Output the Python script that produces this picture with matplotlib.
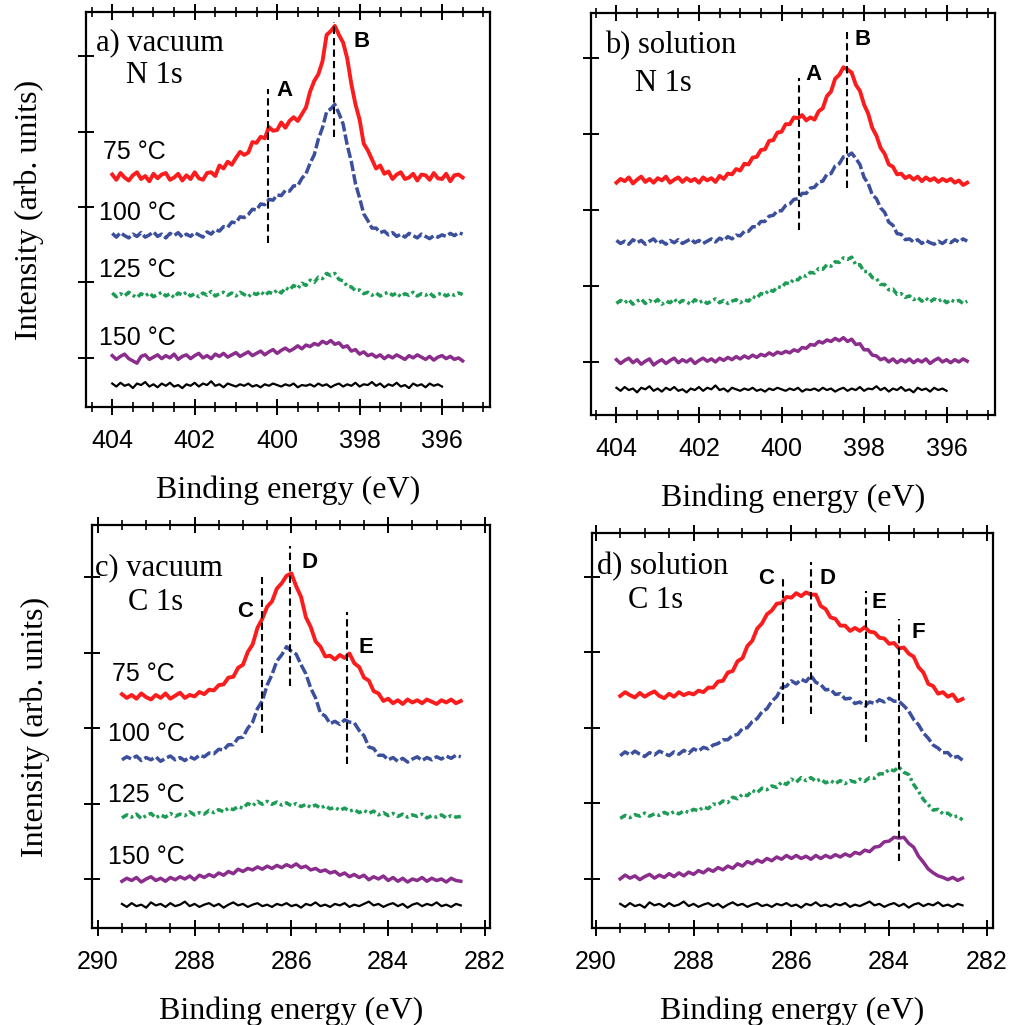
import numpy as np
import matplotlib
matplotlib.use("Agg")
from matplotlib import pyplot as plt
from matplotlib.ticker import MultipleLocator

# binding energy grids (eV), 0.1 eV steps
n1s_energy = np.arange(404.0, 395.45, -0.1)
n1s_bg_energy = np.arange(404.0, 395.95, -0.1)
c1s_energy = np.arange(289.5, 282.45, -0.1)

temperatures = ["75 °C", "100 °C", "125 °C", "150 °C"]

# ---- N 1s, vacuum (offset spectra) ----
n1s_vac_75 = [
    2.43, 2.36, 2.45, 2.39, 2.35, 2.42, 2.46, 2.37, 2.41, 2.34,
    2.44, 2.38, 2.43, 2.45, 2.36, 2.39, 2.44, 2.35, 2.42, 2.37,
    2.46, 2.38, 2.36, 2.45, 2.46, 2.41, 2.55, 2.51, 2.60, 2.56,
    2.65, 2.73, 2.69, 2.72, 2.86, 2.85, 2.93, 2.91, 3.06, 3.01,
    3.02, 3.12, 3.05, 3.14, 3.19, 3.14, 3.23, 3.32, 3.53, 3.67,
    3.76, 3.93, 4.28, 4.33, 4.40, 4.28, 4.18, 3.97, 3.63, 3.36,
    3.16, 2.84, 2.75, 2.63, 2.51, 2.55, 2.44, 2.47, 2.37, 2.43,
    2.46, 2.37, 2.39, 2.44, 2.35, 2.43, 2.42, 2.36, 2.45, 2.38,
    2.37, 2.44, 2.34, 2.42, 2.43, 2.39]
n1s_vac_100 = [
    1.65, 1.60, 1.66, 1.62, 1.59, 1.64, 1.61, 1.66, 1.60, 1.63,
    1.67, 1.61, 1.64, 1.59, 1.65, 1.62, 1.66, 1.60, 1.64, 1.61,
    1.66, 1.63, 1.60, 1.67, 1.64, 1.70, 1.68, 1.74, 1.73, 1.80,
    1.79, 1.87, 1.86, 1.90, 1.97, 1.96, 2.04, 2.03, 2.10, 2.09,
    2.16, 2.15, 2.22, 2.21, 2.28, 2.28, 2.38, 2.44, 2.58, 2.69,
    2.90, 3.05, 3.26, 3.30, 3.36, 3.24, 3.10, 2.82, 2.60, 2.31,
    2.12, 1.91, 1.82, 1.72, 1.72, 1.66, 1.68, 1.63, 1.66, 1.61,
    1.64, 1.60, 1.65, 1.62, 1.59, 1.64, 1.61, 1.58, 1.62, 1.60,
    1.63, 1.61, 1.65, 1.62, 1.66, 1.64]
n1s_vac_125 = [
    0.86, 0.81, 0.85, 0.82, 0.87, 0.83, 0.80, 0.85, 0.82, 0.86,
    0.81, 0.84, 0.87, 0.82, 0.85, 0.80, 0.86, 0.83, 0.87, 0.82,
    0.85, 0.81, 0.86, 0.83, 0.88, 0.82, 0.85, 0.87, 0.83, 0.86,
    0.82, 0.87, 0.84, 0.81, 0.86, 0.84, 0.88, 0.83, 0.87, 0.85,
    0.90, 0.86, 0.93, 0.90, 0.96, 0.92, 0.99, 0.96, 1.03, 1.00,
    1.07, 1.05, 1.12, 1.09, 1.12, 1.04, 1.02, 0.95, 0.94, 0.89,
    0.90, 0.85, 0.87, 0.83, 0.86, 0.82, 0.85, 0.87, 0.83, 0.86,
    0.81, 0.85, 0.83, 0.87, 0.82, 0.85, 0.83, 0.86, 0.81, 0.84,
    0.86, 0.82, 0.85, 0.83, 0.86, 0.84]
n1s_vac_150 = [
    0.03, -0.02, 0.02, 0.05, -0.01, -0.04, -0.07, 0.02, 0.04, -0.02,
    0.01, 0.04, -0.01, 0.03, 0.00, 0.05, -0.02, 0.02, 0.04, -0.01,
    0.03, 0.06, 0.00, 0.03, -0.01, 0.05, 0.02, 0.06, 0.01, 0.04,
    0.07, 0.02, 0.05, 0.08, 0.03, 0.06, 0.09, 0.04, 0.08, 0.11,
    0.06, 0.10, 0.13, 0.09, 0.12, 0.16, 0.12, 0.17, 0.15, 0.19,
    0.17, 0.22, 0.19, 0.23, 0.18, 0.20, 0.14, 0.16, 0.09, 0.11,
    0.05, 0.08, 0.03, 0.05, 0.01, 0.04, -0.01, 0.03, 0.00, 0.04,
    0.01, -0.02, 0.03, 0.00, 0.04, 0.01, -0.02, 0.02, -0.03, 0.01,
    0.03, -0.01, 0.02, -0.02, 0.00, -0.04]

# ---- N 1s, solution ----
n1s_sol_75 = [
    2.36, 2.41, 2.38, 2.43, 2.35, 2.40, 2.44, 2.37, 2.41, 2.36,
    2.42, 2.39, 2.44, 2.36, 2.40, 2.43, 2.37, 2.42, 2.38, 2.41,
    2.36, 2.43, 2.39, 2.42, 2.37, 2.45, 2.41, 2.48, 2.47, 2.54,
    2.52, 2.61, 2.60, 2.69, 2.70, 2.79, 2.80, 2.91, 2.92, 3.02,
    3.03, 3.13, 3.13, 3.22, 3.21, 3.25, 3.18, 3.22, 3.19, 3.30,
    3.34, 3.50, 3.56, 3.73, 3.78, 3.88, 3.85, 3.81, 3.65, 3.57,
    3.39, 3.27, 3.08, 2.98, 2.82, 2.74, 2.60, 2.57, 2.47, 2.48,
    2.42, 2.45, 2.40, 2.44, 2.38, 2.43, 2.39, 2.42, 2.37, 2.41,
    2.38, 2.41, 2.36, 2.39, 2.33, 2.36]
n1s_sol_100 = [
    1.60, 1.56, 1.59, 1.55, 1.61, 1.57, 1.60, 1.55, 1.59, 1.62,
    1.56, 1.59, 1.55, 1.60, 1.57, 1.61, 1.56, 1.59, 1.62, 1.57,
    1.60, 1.56, 1.59, 1.62, 1.58, 1.63, 1.60, 1.65, 1.62, 1.67,
    1.66, 1.72, 1.72, 1.78, 1.78, 1.85, 1.85, 1.92, 1.93, 1.99,
    1.99, 2.06, 2.08, 2.14, 2.15, 2.22, 2.22, 2.29, 2.30, 2.37,
    2.38, 2.47, 2.48, 2.58, 2.61, 2.70, 2.71, 2.75, 2.68, 2.60,
    2.43, 2.35, 2.20, 2.15, 2.03, 1.97, 1.84, 1.80, 1.69, 1.68,
    1.61, 1.62, 1.58, 1.61, 1.56, 1.60, 1.57, 1.55, 1.59, 1.56,
    1.60, 1.57, 1.61, 1.58, 1.62, 1.59]
n1s_sol_125 = [
    0.77, 0.81, 0.78, 0.82, 0.76, 0.80, 0.83, 0.77, 0.81, 0.78,
    0.82, 0.76, 0.80, 0.78, 0.83, 0.77, 0.81, 0.79, 0.76, 0.82,
    0.78, 0.81, 0.77, 0.80, 0.83, 0.78, 0.81, 0.77, 0.80, 0.82,
    0.78, 0.82, 0.80, 0.86, 0.84, 0.90, 0.89, 0.95, 0.93, 0.99,
    0.98, 1.04, 1.03, 1.09, 1.08, 1.14, 1.13, 1.18, 1.17, 1.23,
    1.22, 1.28, 1.26, 1.32, 1.31, 1.37, 1.35, 1.38, 1.28, 1.28,
    1.19, 1.19, 1.11, 1.10, 1.02, 1.02, 0.95, 0.96, 0.89, 0.90,
    0.85, 0.87, 0.82, 0.85, 0.80, 0.84, 0.79, 0.83, 0.80, 0.83,
    0.78, 0.82, 0.79, 0.81, 0.77, 0.80]
n1s_sol_150 = [
    0.03, -0.02, 0.02, 0.05, -0.01, 0.03, -0.03, 0.01, 0.04, -0.04,
    0.00, 0.03, -0.02, 0.02, 0.05, -0.01, 0.03, 0.00, 0.04, -0.02,
    0.02, 0.05, 0.01, 0.04, 0.00, 0.05, 0.02, 0.06, 0.03, 0.07,
    0.04, 0.08, 0.05, 0.09, 0.06, 0.10, 0.08, 0.12, 0.09, 0.13,
    0.11, 0.14, 0.12, 0.16, 0.14, 0.19, 0.18, 0.23, 0.22, 0.27,
    0.25, 0.29, 0.27, 0.31, 0.28, 0.32, 0.27, 0.30, 0.23, 0.24,
    0.16, 0.16, 0.09, 0.08, 0.03, 0.05, 0.00, 0.04, -0.01, 0.03,
    0.00, 0.04, -0.01, 0.03, 0.00, 0.04, -0.02, 0.02, 0.05, 0.00,
    0.03, -0.01, 0.03, 0.00, 0.04, 0.01]

# N 1s, bare substrate
n1s_bg = [
    -0.34, -0.38, -0.33, -0.37, -0.35, -0.40, -0.34, -0.36, -0.32, -0.38,
    -0.35, -0.39, -0.34, -0.37, -0.33, -0.38, -0.36, -0.40, -0.35, -0.37,
    -0.33, -0.38, -0.34, -0.36, -0.31, -0.37, -0.35, -0.39, -0.34, -0.36,
    -0.38, -0.35, -0.37, -0.34, -0.38, -0.36, -0.39, -0.35, -0.37, -0.34,
    -0.36, -0.38, -0.35, -0.37, -0.34, -0.39, -0.36, -0.37, -0.35, -0.38,
    -0.34, -0.37, -0.35, -0.39, -0.36, -0.34, -0.38, -0.35, -0.37, -0.33,
    -0.38, -0.35, -0.36, -0.32, -0.37, -0.34, -0.39, -0.35, -0.37, -0.33,
    -0.38, -0.36, -0.40, -0.34, -0.37, -0.35, -0.39, -0.34, -0.37, -0.35,
    -0.38]

# ---- C 1s, vacuum ----
c1s_vac_75 = [
    2.45, 2.40, 2.44, 2.39, 2.46, 2.41, 2.38, 2.44, 2.40, 2.46,
    2.39, 2.43, 2.47, 2.40, 2.44, 2.42, 2.48, 2.45, 2.51, 2.50,
    2.57, 2.58, 2.67, 2.68, 2.80, 2.84, 3.01, 3.11, 3.33, 3.45,
    3.61, 3.68, 3.85, 3.92, 4.02, 4.05, 3.88, 3.74, 3.47, 3.34,
    3.15, 3.08, 2.95, 2.96, 2.91, 2.97, 2.93, 2.99, 2.86, 2.81,
    2.67, 2.63, 2.49, 2.46, 2.36, 2.39, 2.33, 2.37, 2.32, 2.38,
    2.34, 2.37, 2.33, 2.38, 2.35, 2.32, 2.37, 2.34, 2.38, 2.33,
    2.36]
c1s_vac_100 = [
    1.58, 1.62, 1.59, 1.63, 1.57, 1.61, 1.58, 1.62, 1.56, 1.60,
    1.63, 1.58, 1.61, 1.57, 1.62, 1.59, 1.64, 1.62, 1.67, 1.66,
    1.72, 1.71, 1.78, 1.78, 1.87, 1.88, 2.00, 2.08, 2.26, 2.36,
    2.57, 2.71, 2.89, 2.97, 3.08, 3.02, 2.98, 2.84, 2.72, 2.53,
    2.40, 2.20, 2.16, 2.06, 2.09, 2.05, 2.11, 2.08, 2.07, 1.97,
    1.90, 1.75, 1.73, 1.64, 1.64, 1.58, 1.61, 1.56, 1.60, 1.55,
    1.59, 1.62, 1.57, 1.61, 1.58, 1.62, 1.59, 1.63, 1.60, 1.64,
    1.62]
c1s_vac_125 = [
    0.81, 0.85, 0.82, 0.86, 0.80, 0.84, 0.87, 0.81, 0.85, 0.82,
    0.87, 0.83, 0.86, 0.84, 0.89, 0.85, 0.88, 0.86, 0.91, 0.88,
    0.92, 0.89, 0.94, 0.92, 0.96, 0.94, 1.00, 0.97, 1.03, 0.99,
    1.03, 0.99, 1.02, 0.98, 1.01, 0.97, 1.00, 0.96, 0.99, 0.95,
    0.98, 0.94, 0.97, 0.93, 0.95, 0.91, 0.94, 0.90, 0.92, 0.88,
    0.91, 0.87, 0.90, 0.85, 0.88, 0.84, 0.87, 0.83, 0.86, 0.82,
    0.85, 0.83, 0.86, 0.81, 0.84, 0.82, 0.85, 0.81, 0.84, 0.82,
    0.83]
c1s_vac_150 = [
    -0.03, 0.01, -0.02, 0.02, -0.04, 0.00, 0.03, -0.02, 0.01, -0.03,
    0.02, -0.01, 0.03, 0.00, 0.04, -0.01, 0.05, 0.02, 0.06, 0.03,
    0.08, 0.05, 0.10, 0.07, 0.13, 0.10, 0.14, 0.12, 0.16, 0.13,
    0.17, 0.14, 0.18, 0.15, 0.19, 0.16, 0.20, 0.15, 0.17, 0.12,
    0.14, 0.10, 0.12, 0.08, 0.10, 0.05, 0.08, 0.03, 0.06, 0.02,
    0.05, -0.01, 0.03, 0.00, 0.04, -0.02, 0.02, -0.03, 0.01, -0.04,
    0.00, -0.02, 0.02, -0.03, 0.01, -0.02, 0.00, -0.04, 0.01, -0.02,
    -0.03]

# ---- C 1s, solution ----
c1s_sol_75 = [
    2.42, 2.47, 2.43, 2.40, 2.46, 2.41, 2.45, 2.48, 2.42, 2.39,
    2.45, 2.41, 2.47, 2.43, 2.46, 2.44, 2.49, 2.47, 2.53, 2.53,
    2.61, 2.62, 2.73, 2.75, 2.88, 2.92, 3.08, 3.15, 3.31, 3.38,
    3.50, 3.55, 3.64, 3.65, 3.73, 3.72, 3.78, 3.74, 3.79, 3.76,
    3.76, 3.61, 3.57, 3.46, 3.44, 3.35, 3.35, 3.28, 3.32, 3.28,
    3.33, 3.27, 3.26, 3.19, 3.18, 3.11, 3.12, 3.05, 3.06, 2.98,
    2.94, 2.80, 2.73, 2.58, 2.55, 2.45, 2.47, 2.41, 2.44, 2.35,
    2.38]
c1s_sol_100 = [
    1.63, 1.68, 1.64, 1.69, 1.65, 1.62, 1.67, 1.64, 1.69, 1.66,
    1.63, 1.68, 1.65, 1.70, 1.66, 1.72, 1.69, 1.74, 1.72, 1.77,
    1.79, 1.84, 1.84, 1.90, 1.91, 1.99, 2.00, 2.08, 2.12, 2.21,
    2.25, 2.35, 2.41, 2.53, 2.55, 2.62, 2.58, 2.64, 2.61, 2.69,
    2.60, 2.57, 2.50, 2.51, 2.44, 2.45, 2.38, 2.39, 2.32, 2.34,
    2.29, 2.34, 2.32, 2.37, 2.34, 2.39, 2.35, 2.35, 2.29, 2.22,
    2.11, 2.04, 1.93, 1.86, 1.77, 1.73, 1.67, 1.67, 1.60, 1.62,
    1.57]
c1s_sol_125 = [
    0.80, 0.84, 0.81, 0.85, 0.83, 0.87, 0.83, 0.86, 0.84, 0.88,
    0.85, 0.89, 0.86, 0.90, 0.88, 0.92, 0.90, 0.95, 0.93, 0.99,
    0.98, 1.03, 1.01, 1.08, 1.06, 1.12, 1.10, 1.17, 1.14, 1.20,
    1.18, 1.23, 1.21, 1.28, 1.25, 1.32, 1.28, 1.34, 1.30, 1.34,
    1.29, 1.32, 1.27, 1.30, 1.26, 1.30, 1.26, 1.30, 1.28, 1.32,
    1.29, 1.34, 1.33, 1.39, 1.39, 1.45, 1.43, 1.48, 1.41, 1.38,
    1.25, 1.16, 1.05, 0.98, 0.91, 0.92, 0.86, 0.87, 0.82, 0.83,
    0.78]
c1s_sol_150 = [
    0.00, 0.05, 0.01, 0.04, -0.01, 0.03, 0.06, 0.01, 0.05, 0.02,
    0.07, 0.03, 0.08, 0.04, 0.09, 0.06, 0.11, 0.08, 0.13, 0.10,
    0.15, 0.12, 0.17, 0.14, 0.20, 0.17, 0.23, 0.20, 0.25, 0.22,
    0.27, 0.24, 0.29, 0.26, 0.31, 0.27, 0.31, 0.27, 0.30, 0.26,
    0.31, 0.27, 0.31, 0.28, 0.32, 0.29, 0.33, 0.30, 0.35, 0.33,
    0.38, 0.36, 0.42, 0.43, 0.49, 0.50, 0.55, 0.54, 0.55, 0.47,
    0.42, 0.30, 0.22, 0.13, 0.08, 0.04, 0.02, -0.01, 0.02, -0.02,
    0.01]

# C 1s, bare substrate
c1s_bg = [
    -0.33, -0.37, -0.32, -0.36, -0.34, -0.38, -0.31, -0.35, -0.33, -0.37,
    -0.32, -0.36, -0.34, -0.30, -0.36, -0.33, -0.37, -0.34, -0.32, -0.36,
    -0.33, -0.38, -0.34, -0.31, -0.35, -0.33, -0.37, -0.34, -0.32, -0.36,
    -0.34, -0.37, -0.33, -0.35, -0.32, -0.36, -0.34, -0.38, -0.33, -0.35,
    -0.31, -0.36, -0.34, -0.37, -0.33, -0.35, -0.32, -0.37, -0.34, -0.36,
    -0.33, -0.30, -0.35, -0.33, -0.37, -0.34, -0.32, -0.36, -0.33, -0.38,
    -0.34, -0.32, -0.36, -0.33, -0.35, -0.31, -0.36, -0.34, -0.37, -0.33,
    -0.35]

# marked components: (label, energy, line bottom, line top, label x, label y)
peaks_a = [("A", 400.22, 1.52, 3.57, 399.81, 3.55), ("B", 398.62, 2.93, 4.45, 397.96, 4.19)]
peaks_b = [("A", 399.58, 1.74, 3.74, 399.23, 3.78), ("B", 398.41, 2.29, 4.35, 398.04, 4.24)]
peaks_c = [("C", 286.60, 1.94, 4.00, 286.95, 3.54), ("D", 286.03, 2.56, 4.42, 285.63, 4.20),
           ("E", 284.86, 1.52, 3.54, 284.46, 3.07)]
peaks_d = [("C", 286.18, 2.05, 3.97, 286.52, 3.97), ("D", 285.60, 2.18, 4.19, 285.26, 3.97),
           ("E", 284.48, 1.81, 3.81, 284.20, 3.66), ("F", 283.79, 0.24, 3.44, 283.41, 3.26)]

colors = ["#fb1d1d", "#3b4f9c", "#1c9c55", "#8a2d8c"]
styles = ["-", (0, (3.0, 0.9)), (0, (2.0, 0.9, 0.8, 0.9)), "-"]
widths = [2.8, 2.5, 2.5, 2.5]

SERIF = "Liberation Serif"
SANS = "Liberation Sans"

fig = plt.figure(figsize=(10.1, 10.25), dpi=100)


def draw_panel(rect, energy, curves, bg_energy, bg, xlim, ylim, peaks, title, core,
               title_pos, core_pos, with_temps=False, temp_pos=None):
    ax = fig.add_axes(rect)
    for vals, c, ls, lw in zip(curves, colors, styles, widths):
        ax.plot(energy, vals, color=c, ls=ls, lw=lw)
    ax.plot(bg_energy, bg, color="black", lw=1.6)

    for name, e, y0, y1, lx, ly in peaks:
        ax.plot([e, e], [y0, y1], color="black", lw=1.5, ls=(0, (3.5, 2.0)))
        ax.text(lx, ly, name, fontsize=16, fontweight="bold", family=SANS,
                ha="center", va="center")

    ax.set_xlim(*xlim)
    ax.set_ylim(*ylim)
    ax.xaxis.set_major_locator(MultipleLocator(2))
    ax.xaxis.set_minor_locator(MultipleLocator(0.5))
    ax.yaxis.set_major_locator(MultipleLocator(1))
    ax.tick_params(axis="x", which="major", direction="inout", length=12, width=1.4,
                   top=True, labelsize=18, pad=10)
    ax.tick_params(axis="x", which="minor", direction="inout", length=7, width=1.2, top=True)
    ax.tick_params(axis="y", which="major", direction="inout", length=12, width=1.4,
                   labelleft=False)
    for lab in ax.get_xticklabels():
        lab.set_family(SANS)
    for sp in ax.spines.values():
        sp.set_linewidth(1.6)

    ax.set_xlabel("Binding energy (eV)", family=SERIF, fontsize=23, labelpad=16)
    ax.text(title_pos[0], title_pos[1], title, transform=ax.transAxes, family=SERIF,
            fontsize=22, ha="left", va="baseline")
    ax.text(core_pos[0], core_pos[1], core, transform=ax.transAxes, family=SERIF,
            fontsize=22, ha="left", va="baseline")

    if with_temps:
        ax.set_ylabel("Intensity (arb. units)", family=SERIF, fontsize=23, labelpad=24)
        for t, (tx, ty) in zip(temperatures, temp_pos):
            ax.text(tx, ty, t, transform=ax.transAxes, family=SANS, fontsize=18,
                    ha="left", va="center")
    return ax


draw_panel([0.085, 0.603, 0.400, 0.385], n1s_energy,
           [n1s_vac_75, n1s_vac_100, n1s_vac_125, n1s_vac_150], n1s_bg_energy, n1s_bg,
           (404.64, 394.84), (-0.65, 4.58), peaks_a, "a) vacuum", "N 1s",
           (0.025, 0.904), (0.10, 0.82), True,
           [(0.042, 0.646), (0.032, 0.491), (0.032, 0.347), (0.032, 0.175)])

draw_panel([0.585, 0.595, 0.400, 0.392], n1s_energy,
           [n1s_sol_75, n1s_sol_100, n1s_sol_125, n1s_sol_150], n1s_bg_energy, n1s_bg,
           (404.62, 394.83), (-0.70, 4.59), peaks_b, "b) solution", "N 1s",
           (0.035, 0.90), (0.11, 0.807))

draw_panel([0.091, 0.0946, 0.394, 0.393], c1s_energy,
           [c1s_vac_75, c1s_vac_100, c1s_vac_125, c1s_vac_150], c1s_energy, c1s_bg,
           (290.12, 281.9), (-0.65, 4.69), peaks_c, "c) vacuum", "C 1s",
           (0.008, 0.876), (0.09, 0.79), True,
           [(0.05, 0.63), (0.04, 0.481), (0.04, 0.33), (0.04, 0.176)])

draw_panel([0.586, 0.0946, 0.397, 0.385], c1s_energy,
           [c1s_sol_75, c1s_sol_100, c1s_sol_125, c1s_sol_150], c1s_energy, c1s_bg,
           (290.08, 281.88), (-0.65, 4.57), peaks_d, "d) solution", "C 1s",
           (0.012, 0.896), (0.09, 0.81))

fig.savefig("out.png", dpi=100)
